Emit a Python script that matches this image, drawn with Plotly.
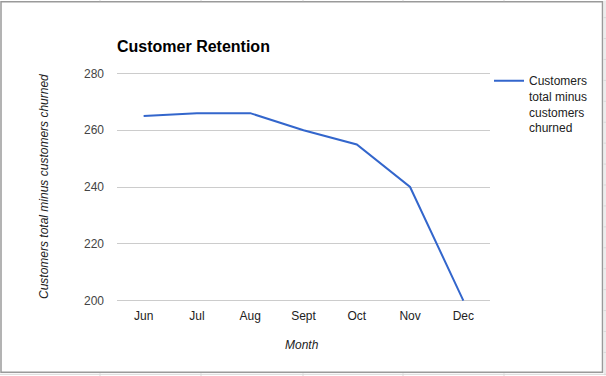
import plotly.graph_objects as go

months = ["Jun", "Jul", "Aug", "Sept", "Oct", "Nov", "Dec"]
customers_net = [265, 266, 266, 260, 255, 240, 200]
y_ticks = [200, 220, 240, 260, 280]

W, H = 606, 376
YMIN, YMAX = 199.5, 280.5
PPU = 228 / 80.0  # pixels per unit (280 at y=73, 200 at y=301)
L, R = 117, 490
T = 73 - (YMAX - 280) * PPU
B = 301 + (200 - YMIN) * PPU

def px_x(p):
    return (p - L) / (R - L)

def px_y(p):
    return (B - p) / (B - T)

font = "Liberation Sans, Arial, sans-serif"

fig = go.Figure()
fig.add_trace(go.Scatter(
    x=months, y=customers_net, mode="lines",
    name="Customers<br>total minus<br>customers<br>churned",
    line=dict(color="#3366cc", width=2),
))

shapes = []
# chart border
shapes.append(dict(type="rect", xref="paper", yref="paper",
                   x0=px_x(1), x1=px_x(602.5), y0=px_y(373), y1=px_y(1),
                   line=dict(color="#9a9a9a", width=1.5), layer="below"))
# spreadsheet grid fragments outside the chart
sheet = "#d9d9d9"
for cx in [100, 201, 303, 403, 504]:
    shapes.append(dict(type="line", xref="paper", yref="paper",
                       x0=px_x(cx), x1=px_x(cx), y0=px_y(374), y1=px_y(377),
                       line=dict(color=sheet, width=1)))
    shapes.append(dict(type="line", xref="paper", yref="paper",
                       x0=px_x(cx), x1=px_x(cx), y0=px_y(-1), y1=px_y(0.5),
                       line=dict(color=sheet, width=1)))
shapes.append(dict(type="line", xref="paper", yref="paper",
                   x0=px_x(605), x1=px_x(605), y0=px_y(376), y1=px_y(0),
                   line=dict(color=sheet, width=1)))
shapes.append(dict(type="line", xref="paper", yref="paper",
                   x0=px_x(0), x1=px_x(607), y0=px_y(375), y1=px_y(375),
                   line=dict(color=sheet, width=1)))
for ry in range(17, 372, 21):
    shapes.append(dict(type="line", xref="paper", yref="paper",
                       x0=px_x(603.5), x1=px_x(607), y0=px_y(ry), y1=px_y(ry),
                       line=dict(color=sheet, width=1)))

fig.update_layout(
    width=W, height=H,
    margin=dict(l=L, r=W - R, t=T, b=H - B, pad=0),
    paper_bgcolor="white", plot_bgcolor="white",
    font=dict(family=font, size=12, color="#444444"),
    title=dict(text="<b>Customer Retention</b>", x=px_x(117), xref="paper", xanchor="left",
               y=1 - 46 / H, yanchor="middle",
               font=dict(family=font, size=16, color="#000000")),
    xaxis=dict(type="category", range=[-0.5, len(months) - 0.5],
               showgrid=False, showline=False, zeroline=False,
               ticks="", ticklabelstandoff=5,
               tickfont=dict(family=font, size=12, color="#222222")),
    yaxis=dict(range=[YMIN, YMAX], tickvals=y_ticks, showgrid=True, gridcolor="#cccccc",
               gridwidth=1, zeroline=False, showline=False, ticks="",
               ticklabelstandoff=12,
               tickfont=dict(family=font, size=12, color="#444444")),
    showlegend=True,
    legend=dict(x=px_x(489), y=px_y(66), xanchor="left", yanchor="top",
                itemwidth=30, valign="top", bgcolor="rgba(0,0,0,0)",
                font=dict(family=font, size=12, color="#222222")),
    shapes=shapes,
    annotations=[
        dict(text="<i>Customers total minus customers churned</i>", xref="paper", yref="paper",
             x=px_x(44), y=px_y(187), textangle=-90, showarrow=False,
             xanchor="center", yanchor="middle",
             font=dict(family=font, size=12, color="#222222")),
        dict(text="<i>Month</i>", xref="paper", yref="paper",
             x=px_x(302), y=px_y(346), showarrow=False,
             xanchor="center", yanchor="middle",
             font=dict(family=font, size=12, color="#222222")),
    ],
)

fig.write_html("out.html", config={"displayModeBar": False},
               post_script="document.body.style.margin='0';document.body.style.overflow='hidden';")
